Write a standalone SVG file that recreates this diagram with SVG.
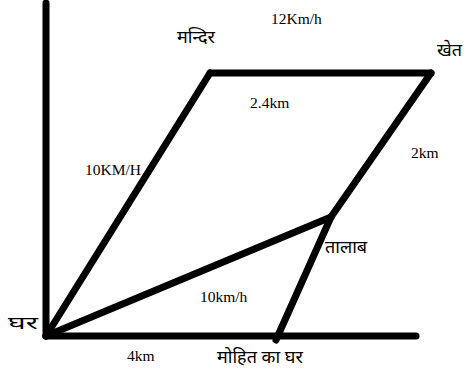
<svg xmlns="http://www.w3.org/2000/svg" width="468" height="373" viewBox="0 0 468 373">
<style>
.ln{stroke:#000;stroke-width:7;fill:none;stroke-linecap:round;stroke-linejoin:round}
.t{font-family:"Liberation Serif",serif;font-size:15.5px;fill:#000}
.h{font-family:"Noto Sans","Noto Sans Devanagari","DejaVu Sans",sans-serif;font-size:18px;fill:#000}
</style>
<rect width="468" height="373" fill="#fff"/>
<g id="connectors">
<line class="ln" x1="46" y1="3" x2="46" y2="336"/>
<line class="ln" x1="46" y1="336" x2="416" y2="336"/>
<line class="ln" x1="46" y1="336" x2="210" y2="73"/>
<line class="ln" x1="210" y1="73" x2="431" y2="73"/>
<polyline class="ln" points="431,73 331,217 276,340"/>
<line class="ln" x1="46" y1="336" x2="331" y2="217"/>
</g>
<g id="ghar"><text class="h" x="8" y="329" textLength="30" lengthAdjust="spacingAndGlyphs">घर</text></g>
<g id="mandir"><text class="h" x="177" y="43">मन्दिर</text></g>
<g id="khet"><text class="h" x="437" y="56">खेत</text></g>
<g id="talab"><text class="h" x="325" y="253">तालाब</text></g>
<g id="mohit"><text class="h" x="217" y="363">मोहित का घर</text></g>
<g id="labels">
<text class="t" x="271" y="24">12Km/h</text>
<text class="t" x="250" y="108">2.4km</text>
<text class="t" x="411" y="158">2km</text>
<text class="t" x="85" y="175">10KM/H</text>
<text class="t" x="200" y="302">10km/h</text>
<text class="t" x="127" y="361">4km</text>
</g>
</svg>
